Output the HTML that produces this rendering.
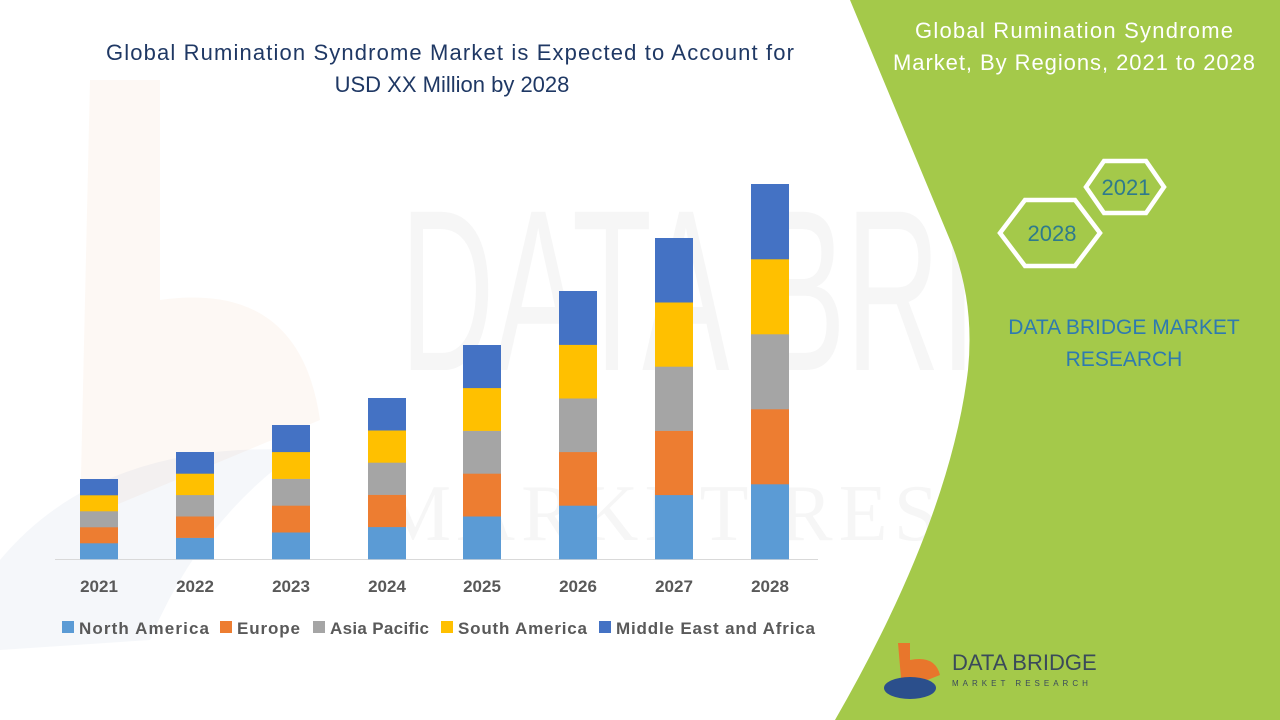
<!DOCTYPE html>
<html><head><meta charset="utf-8"><style>
body{margin:0;width:1280px;height:720px;overflow:hidden;background:#fff;font-family:"Liberation Sans",sans-serif;position:relative}
svg{position:absolute;left:0;top:0}
</style></head><body>
<svg width="1280" height="720" viewBox="0 0 1280 720">
<g opacity="0.04">
<text x="400" y="370" font-size="230" font-family="Liberation Sans" fill="#333" textLength="860" lengthAdjust="spacingAndGlyphs">DATA BRIDGE</text>
<text x="380" y="540" font-size="80" font-family="Liberation Serif" fill="#333" textLength="860" lengthAdjust="spacing">MARKET RESEARCH</text>
</g>
<path d="M90 80 L160 80 L160 300 Q300 280 320 420 L80 520 Z" fill="#f2c9a8" opacity="0.12"/>
<path d="M0 560 Q100 440 300 450 Q200 520 150 640 L0 650Z" fill="#9bb0cc" opacity="0.1"/>
<path d="M850 0 L1280 0 L1280 720 L835 720 Q950 520 968 370 Q975 300 950 240 Z" fill="#a4c94a"/>
<text x="1074" y="38" font-size="22" fill="#fff" text-anchor="middle" textLength="318">Global Rumination Syndrome</text>
<text x="1074" y="70" font-size="22" fill="#fff" text-anchor="middle" textLength="362">Market, By Regions, 2021 to 2028</text>
<polygon points="1000,233 1025,200 1075,200 1100,233 1075,266 1025,266" fill="none" stroke="#fff" stroke-width="4.5"/>
<polygon points="1086,187 1104,161 1146,161 1164,187 1146,213 1104,213" fill="none" stroke="#fff" stroke-width="4.5"/>
<text x="1052" y="241" font-size="22" fill="#2e7a8c" text-anchor="middle">2028</text>
<text x="1126" y="195" font-size="22" fill="#2e7a8c" text-anchor="middle">2021</text>
<text x="1124" y="334" font-size="21" fill="#2e7ab0" text-anchor="middle">DATA BRIDGE MARKET</text>
<text x="1124" y="366" font-size="21" fill="#2e7ab0" text-anchor="middle">RESEARCH</text>
<path d="M898 643 L910 643 L910 660 Q935 655 940 675 L902 690 Z" fill="#e8762c"/>
<ellipse cx="910" cy="688" rx="26" ry="11" fill="#2b4f8c"/>
<text x="952" y="670" font-size="22" fill="#3a4a5a">DATA BRIDGE</text>
<text x="952" y="686" font-size="8" fill="#3a4a5a" letter-spacing="4">MARKET RESEARCH</text>
<text x="450" y="60" font-size="22" fill="#1f3864" text-anchor="middle" textLength="688">Global Rumination Syndrome Market is Expected to Account for</text>
<text x="452" y="92" font-size="22" fill="#1f3864" text-anchor="middle">USD XX Million by 2028</text>
<line x1="55" y1="559.5" x2="818" y2="559.5" stroke="#d9d9d9"/>
<g id="bars"></g>
<g font-size="17" font-weight="bold" fill="#595959" text-anchor="middle">
<text x="99" y="592">2021</text><text x="195" y="592">2022</text><text x="291" y="592">2023</text><text x="387" y="592">2024</text><text x="482" y="592">2025</text><text x="578" y="592">2026</text><text x="674" y="592">2027</text><text x="770" y="592">2028</text>
</g>
<g font-size="17" font-weight="bold" fill="#595959">
<rect x="62" y="621" width="12" height="12" fill="#5b9bd5"/><text x="79" y="634" textLength="130">North America</text>
<rect x="220" y="621" width="12" height="12" fill="#ed7d31"/><text x="237" y="634" textLength="63">Europe</text>
<rect x="313" y="621" width="12" height="12" fill="#a5a5a5"/><text x="330" y="634" textLength="99">Asia Pacific</text>
<rect x="441" y="621" width="12" height="12" fill="#ffc000"/><text x="458" y="634" textLength="129">South America</text>
<rect x="599" y="621" width="12" height="12" fill="#4472c4"/><text x="616" y="634" textLength="199">Middle East and Africa</text>
</g>
</svg>
<script>
var g=document.getElementById('bars');var cols=['#5b9bd5','#ed7d31','#a5a5a5','#ffc000','#4472c4'];
var xs=[80,176,272,368,463,559,655,751],tops=[479,452,425,398,345,291,238,184];
var s='';for(var i=0;i<8;i++){var h=(559-tops[i])/5;for(var k=0;k<5;k++){s+='<rect x="'+xs[i]+'" y="'+(559-h*(k+1))+'" width="38" height="'+(h+0.3)+'" fill="'+cols[k]+'"/>';}}
g.innerHTML=s;
</script>
</body></html>
